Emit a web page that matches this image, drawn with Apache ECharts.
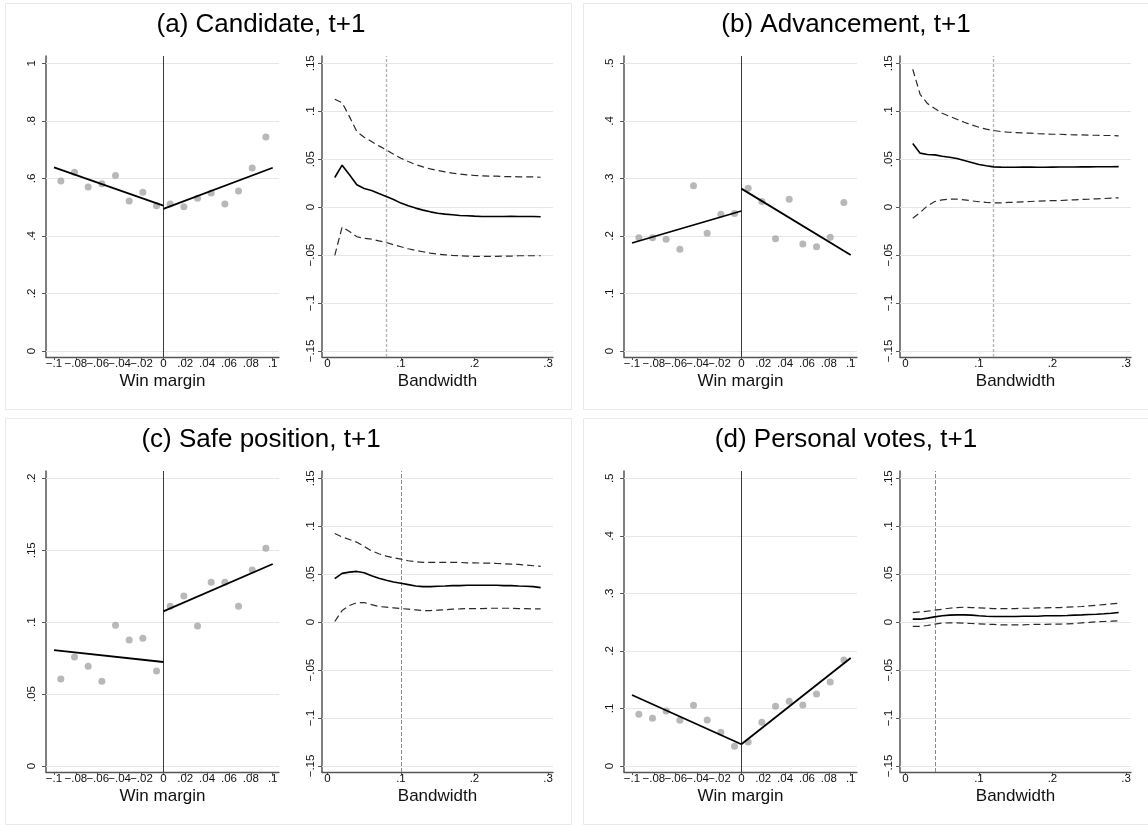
<!DOCTYPE html>
<html>
<head>
<meta charset="utf-8">
<title>RD estimates: candidacy, advancement, safe position, personal votes</title>
<script src="https://cdn.jsdelivr.net/npm/echarts@6/dist/echarts.min.js"></script>
<style>
  html, body { margin: 0; padding: 0; background: #ffffff; }
  #chart { width: 1148px; height: 825px; }
</style>
</head>
<body>
<div id="chart"></div>
<script>
// ---- Binned outcome means by win margin (bin midpoints, width .0125) ----
const binX = [-0.09375, -0.08125, -0.06875, -0.05625, -0.04375, -0.03125, -0.01875, -0.00625,
               0.00625,  0.01875,  0.03125,  0.04375,  0.05625,  0.06875,  0.08125,  0.09375];

const candidateBins   = [0.591, 0.621, 0.570, 0.581, 0.610, 0.521, 0.552, 0.505,
                         0.511, 0.501, 0.531, 0.549, 0.511, 0.556, 0.636, 0.744];
const advancementBins = [0.197, 0.197, 0.194, 0.177, 0.287, 0.2045, 0.2375, 0.239,
                         0.283, 0.260, 0.195, 0.2636, 0.186, 0.181, 0.1976, 0.258];
const safeBins        = [0.0605, 0.0758, 0.0693, 0.0589, 0.0978, 0.0876, 0.0888, 0.0660,
                         0.1110, 0.1182, 0.0973, 0.1277, 0.1277, 0.1110, 0.1363, 0.1513];
const votesBins       = [0.0898, 0.0829, 0.0956, 0.0794, 0.1054, 0.0800, 0.0585, 0.0342,
                         0.0417, 0.0759, 0.1037, 0.1124, 0.1060, 0.1250, 0.1460, 0.1840];

// ---- Linear fits on each side of the cutoff ----
const fitLeftX  = [-0.1, 0];
const fitRightX = [0, 0.1];
const candidateFitL   = [0.638, 0.505];
const candidateFitR   = [0.494, 0.637];
const advancementFitL = [0.1877, 0.2433];
const advancementFitR = [0.2822, 0.1669];
const safeFitL        = [0.0805, 0.0723];
const safeFitR        = [0.1075, 0.1404];
const votesFitL       = [0.1234, 0.0377];
const votesFitR       = [0.0377, 0.1877];

// ---- RD estimate and 95% CI across bandwidths ----
const bandwidth = [0.01, 0.02, 0.03, 0.04, 0.05, 0.06, 0.07, 0.08, 0.09, 0.10,
                   0.11, 0.12, 0.13, 0.14, 0.15, 0.16, 0.17, 0.18, 0.19, 0.20,
                   0.21, 0.22, 0.23, 0.24, 0.25, 0.26, 0.27, 0.28, 0.29];

const candidateEst = [0.0309, 0.0438, 0.0337, 0.0233, 0.0194, 0.0174, 0.0142, 0.0111, 0.0080, 0.0042,
                      0.0014, -0.0010, -0.0031, -0.0049, -0.0063, -0.0073, -0.0080, -0.0087, -0.0090, -0.0094,
                      -0.0097, -0.0097, -0.0097, -0.0097, -0.0096, -0.0097, -0.0097, -0.0098, -0.0100];
const candidateHi  = [0.1125, 0.1090, 0.0944, 0.0788, 0.0729, 0.0684, 0.0639, 0.0597, 0.0552, 0.0510,
                      0.0476, 0.0444, 0.0420, 0.0399, 0.0382, 0.0368, 0.0354, 0.0344, 0.0337, 0.0330,
                      0.0326, 0.0323, 0.0323, 0.0319, 0.0319, 0.0316, 0.0316, 0.0316, 0.0312];
const candidateLo  = [-0.0503, -0.0208, -0.0253, -0.0309, -0.0326, -0.0333, -0.0351, -0.0368, -0.0392, -0.0413,
                      -0.0434, -0.0451, -0.0465, -0.0479, -0.0490, -0.0497, -0.0503, -0.0507, -0.0510, -0.0514,
                      -0.0514, -0.0514, -0.0514, -0.0510, -0.0510, -0.0507, -0.0507, -0.0507, -0.0507];

const advancementEst = [0.0663, 0.0563, 0.0549, 0.0545, 0.0531, 0.0521, 0.0507, 0.0486, 0.0465, 0.0444,
                        0.0431, 0.0420, 0.0417, 0.0416, 0.0416, 0.0417, 0.0417, 0.0416, 0.0416, 0.0417,
                        0.0418, 0.0418, 0.0419, 0.0420, 0.0420, 0.0421, 0.0421, 0.0422, 0.0423];
const advancementHi  = [0.1438, 0.1177, 0.1080, 0.1028, 0.0979, 0.0948, 0.0917, 0.0885, 0.0858, 0.0833,
                        0.0813, 0.0799, 0.0788, 0.0781, 0.0778, 0.0774, 0.0771, 0.0767, 0.0764, 0.0760,
                        0.0760, 0.0757, 0.0753, 0.0753, 0.0750, 0.0750, 0.0747, 0.0747, 0.0743];
const advancementLo  = [-0.0115, -0.0056, 0.0014, 0.0059, 0.0076, 0.0083, 0.0083, 0.0076, 0.0066, 0.0056,
                        0.0049, 0.0045, 0.0045, 0.0049, 0.0052, 0.0056, 0.0059, 0.0063, 0.0066, 0.0069,
                        0.0069, 0.0073, 0.0076, 0.0080, 0.0083, 0.0087, 0.0090, 0.0094, 0.0097];

const safeEst = [0.0453, 0.0509, 0.0522, 0.0529, 0.0516, 0.0484, 0.0457, 0.0436, 0.0419, 0.0405,
                 0.0391, 0.0377, 0.0370, 0.0370, 0.0374, 0.0377, 0.0381, 0.0381, 0.0384, 0.0384,
                 0.0384, 0.0384, 0.0384, 0.0381, 0.0381, 0.0377, 0.0374, 0.0370, 0.0360];
const safeHi  = [0.0924, 0.0889, 0.0862, 0.0834, 0.0789, 0.0744, 0.0713, 0.0689, 0.0671, 0.0657,
                 0.0640, 0.0630, 0.0623, 0.0623, 0.0623, 0.0623, 0.0623, 0.0623, 0.0619, 0.0619,
                 0.0616, 0.0616, 0.0612, 0.0609, 0.0606, 0.0602, 0.0595, 0.0588, 0.0581];
const safeLo  = [0.0007, 0.0121, 0.0173, 0.0204, 0.0204, 0.0183, 0.0163, 0.0156, 0.0149, 0.0142,
                 0.0135, 0.0128, 0.0121, 0.0121, 0.0125, 0.0128, 0.0135, 0.0138, 0.0142, 0.0142,
                 0.0142, 0.0145, 0.0145, 0.0145, 0.0145, 0.0142, 0.0142, 0.0138, 0.0138];

const votesEst = [0.0031, 0.0031, 0.0042, 0.0055, 0.0066, 0.0073, 0.0076, 0.0076, 0.0073, 0.0066,
                  0.0062, 0.0059, 0.0059, 0.0059, 0.0059, 0.0062, 0.0062, 0.0062, 0.0066, 0.0066,
                  0.0066, 0.0069, 0.0073, 0.0076, 0.0080, 0.0083, 0.0087, 0.0093, 0.0100];
const votesHi  = [0.0100, 0.0107, 0.0114, 0.0125, 0.0135, 0.0145, 0.0152, 0.0156, 0.0152, 0.0149,
                  0.0145, 0.0142, 0.0142, 0.0142, 0.0142, 0.0145, 0.0145, 0.0149, 0.0149, 0.0152,
                  0.0152, 0.0156, 0.0159, 0.0163, 0.0170, 0.0176, 0.0183, 0.0190, 0.0197];
const votesLo  = [-0.0045, -0.0045, -0.0035, -0.0021, -0.0010, -0.0007, -0.0007, -0.0010, -0.0014, -0.0017,
                  -0.0021, -0.0024, -0.0028, -0.0028, -0.0028, -0.0028, -0.0024, -0.0024, -0.0024, -0.0021,
                  -0.0021, -0.0017, -0.0014, -0.0007, -0.0003, 0.0003, 0.0007, 0.0010, 0.0014];

// Optimal (data-driven) bandwidths
const candidateBwOpt   = 0.0834;
const advancementBwOpt = 0.124;
const safeBwOpt        = 0.10;
const votesBwOpt       = 0.044;

// ---- Tick values ----
const winTicks       = [-0.1, -0.08, -0.06, -0.04, -0.02, 0, 0.02, 0.04, 0.06, 0.08, 0.1];
const bwTicks        = [0, 0.1, 0.2, 0.3];
const effectTicks    = [-0.15, -0.1, -0.05, 0, 0.05, 0.1, 0.15];
const candidateTicks = [0, 0.2, 0.4, 0.6, 0.8, 1];
const shareTicks     = [0, 0.1, 0.2, 0.3, 0.4, 0.5];
const safeTicks      = [0, 0.05, 0.1, 0.15, 0.2];

const titles = ['(a) Candidate, t+1', '(b) Advancement, t+1', '(c) Safe position, t+1', '(d) Personal votes, t+1'];

// ---- Styling ----
const FONT = '"Liberation Sans", Arial, Helvetica, sans-serif';
const AXIS_COLOR = '#555555';
const GRID_COLOR = '#e6e6e6';
const DOT_COLOR = '#a6a6a6';
const TICK_FONT = 11.5;

// Stata-like number labels: .05, -.1, 0, 1
function stataLabel(v) {
  if (Math.abs(v) < 1e-12) return '0';
  let s = String(Math.round(v * 10000) / 10000);
  s = s.replace(/^(-?)0\./, '$1.');
  return s.replace('-', '\u2212');
}

// Axis extent = tick range plus a small margin on each side
function extent(ticks, padLo, padHi) {
  const lo = ticks[0], hi = ticks[ticks.length - 1], span = hi - lo;
  return [lo - padLo * span, hi + padHi * span];
}

const panels = [
  { title: titles[0], col: 0, row: 0, yTicks: candidateTicks, bins: candidateBins,
    fitL: candidateFitL, fitR: candidateFitR, est: candidateEst, hi: candidateHi, lo: candidateLo,
    bwOpt: candidateBwOpt, bwLine: { color: '#b4b4b4', width: 1.4, type: [3, 2] } },
  { title: titles[1], col: 1, row: 0, yTicks: shareTicks, bins: advancementBins,
    fitL: advancementFitL, fitR: advancementFitR, est: advancementEst, hi: advancementHi, lo: advancementLo,
    bwOpt: advancementBwOpt, bwLine: { color: '#b4b4b4', width: 1.4, type: [3, 2] } },
  { title: titles[2], col: 0, row: 1, yTicks: safeTicks, bins: safeBins,
    fitL: safeFitL, fitR: safeFitR, est: safeEst, hi: safeHi, lo: safeLo,
    bwOpt: safeBwOpt, bwLine: { color: '#8a8a8a', width: 1, type: [4, 2] } },
  { title: titles[3], col: 1, row: 1, yTicks: shareTicks, bins: votesBins,
    fitL: votesFitL, fitR: votesFitR, est: votesEst, hi: votesHi, lo: votesLo,
    bwOpt: votesBwOpt, bwLine: { color: '#8a8a8a', width: 1, type: [4, 2] } }
];

const COL_STEP = 578, ROW_STEP = 415;
const grids = [], xAxes = [], yAxes = [], series = [], graphics = [];

function xAxisDef(gi, ticks, range, name) {
  return {
    gridIndex: gi, type: 'value', min: range[0], max: range[1],
    axisLine: { show: true, onZero: false, lineStyle: { color: AXIS_COLOR, width: 1.3 } },
    axisTick: { show: true, customValues: ticks, length: 3, lineStyle: { color: AXIS_COLOR, width: 1 } },
    axisLabel: { show: true, customValues: ticks, formatter: stataLabel, margin: 1,
                 fontSize: TICK_FONT, fontFamily: FONT, color: '#111' },
    splitLine: { show: false },
    name: name, nameLocation: 'middle', nameGap: 16,
    nameTextStyle: { fontSize: 17, fontFamily: FONT, color: '#111' }
  };
}

function yAxisDef(gi, ticks, range, labelMargin) {
  return {
    gridIndex: gi, type: 'value', min: range[0], max: range[1],
    axisLine: { show: true, onZero: false, lineStyle: { color: AXIS_COLOR, width: 1.5 } },
    axisTick: { show: true, customValues: ticks, length: 4, lineStyle: { color: AXIS_COLOR, width: 1 } },
    axisLabel: { show: true, customValues: ticks, formatter: stataLabel, rotate: 90, margin: labelMargin,
                 fontSize: TICK_FONT, fontFamily: FONT, color: '#111' },
    splitLine: { show: false }
  };
}

function guideSeries(ai, yTicks, extra) {
  return {
    type: 'line', xAxisIndex: ai, yAxisIndex: ai, data: [], silent: true, z: 1,
    markLine: {
      silent: true, z: 1, animation: false, symbol: ['none', 'none'],
      label: { show: false }, emphasis: { disabled: true },
      lineStyle: { color: GRID_COLOR, width: 1, type: 'solid' },
      data: yTicks.map(v => ({ yAxis: v })).concat(extra)
    }
  };
}

panels.forEach((p, k) => {
  const ox = p.col * COL_STEP, oy = p.row * ROW_STEP;
  const gL = 2 * k, gR = 2 * k + 1;

  // panel frame and heading
  graphics.push({
    type: 'rect', silent: true, z: 0,
    shape: { x: 5.5 + ox, y: 3.5 + oy, width: 566, height: 406 },
    style: { fill: 'none', stroke: '#e9e9e9', lineWidth: 1 }
  });
  graphics.push({
    type: 'text', silent: true, z: 10,
    x: 261 + ox + (p.col ? 7 : 0), y: 25 + oy,
    style: { text: p.title, fill: '#000', font: '26px ' + FONT, align: 'center', verticalAlign: 'middle' }
  });

  // left: binned scatter with linear fits
  grids.push({ left: 46 + ox, top: 56 + oy, width: 233, height: 301, outerBoundsMode: 'none' });
  xAxes.push(xAxisDef(gL, winTicks, extent(winTicks, 0.0366, 0.0288), 'Win margin'));
  yAxes.push(yAxisDef(gL, p.yTicks, extent(p.yTicks, 0.0209, 0.0254), 8));
  series.push(guideSeries(gL, p.yTicks, [{ xAxis: 0, lineStyle: { color: '#3c3c3c', width: 1, type: 'solid' } }]));
  series.push({
    type: 'scatter', xAxisIndex: gL, yAxisIndex: gL, z: 3, silent: true,
    symbol: 'circle', symbolSize: 7, itemStyle: { color: DOT_COLOR },
    data: binX.map((x, i) => [x, p.bins[i]])
  });
  [[fitLeftX, p.fitL], [fitRightX, p.fitR]].forEach(([xs, ys]) => {
    series.push({
      type: 'line', xAxisIndex: gL, yAxisIndex: gL, z: 4, silent: true, symbol: 'none',
      lineStyle: { color: '#000', width: 1.8 },
      data: xs.map((x, i) => [x, ys[i]])
    });
  });

  // right: estimate and confidence band by bandwidth
  grids.push({ left: 322 + ox, top: 56 + oy, width: 231, height: 301, outerBoundsMode: 'none' });
  xAxes.push(xAxisDef(gR, bwTicks, extent(bwTicks, 0.0245, 0.0227), 'Bandwidth'));
  yAxes.push(yAxisDef(gR, effectTicks, extent(effectTicks, 0.0209, 0.0254), 5));
  series.push(guideSeries(gR, effectTicks, [{ xAxis: p.bwOpt, lineStyle: p.bwLine }]));
  [[p.hi, 'dash'], [p.lo, 'dash'], [p.est, 'solid']].forEach(([vals, kind]) => {
    series.push({
      type: 'line', xAxisIndex: gR, yAxisIndex: gR, z: 4, silent: true, symbol: 'none',
      lineStyle: kind === 'solid'
        ? { color: '#000', width: 1.6 }
        : { color: '#2a2a2a', width: 1.2, type: [7, 4] },
      data: bandwidth.map((b, i) => [b, vals[i]])
    });
  });
});

const chart = echarts.init(document.getElementById('chart'), null, { renderer: 'canvas' });
chart.setOption({
  backgroundColor: '#ffffff',
  animation: false,
  tooltip: { show: false },
  grid: grids,
  xAxis: xAxes,
  yAxis: yAxes,
  series: series,
  graphic: graphics
});
</script>
</body>
</html>
